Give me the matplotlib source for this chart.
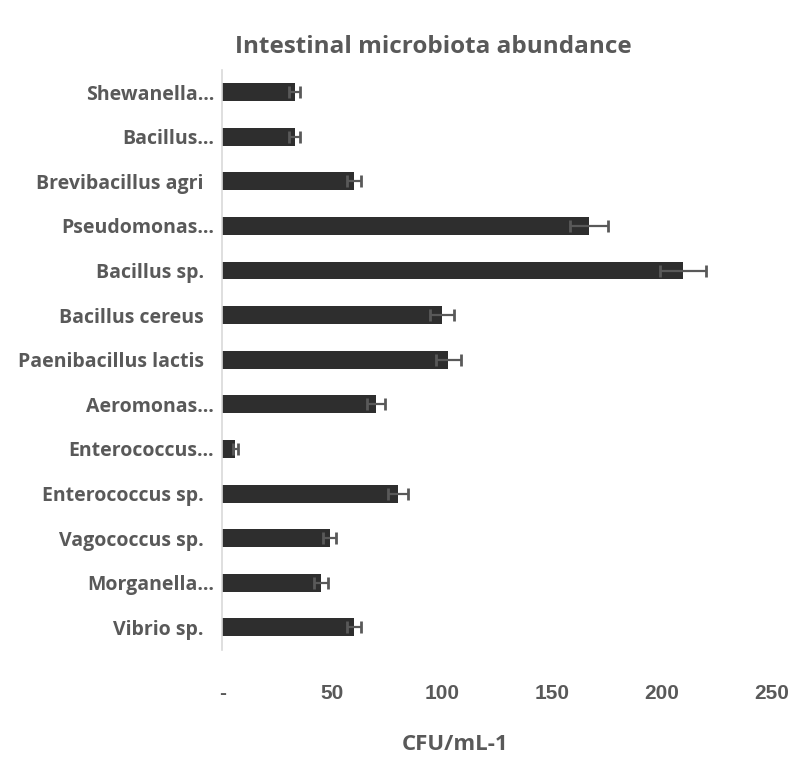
import numpy as np
import matplotlib.pyplot as plt

# categories top-to-bottom as in the chart
labels = ["Shewanella...", "Bacillus...", "Brevibacillus agri  ", "Pseudomonas...",
          "Bacillus sp.  ", "Bacillus cereus  ", "Paenibacillus lactis  ", "Aeromonas...",
          "Enterococcus...", "Enterococcus sp.  ", "Vagococcus sp.  ", "Morganella...",
          "Vibrio sp.  "]
labels = [l.replace("...", "\u2026") for l in labels]
values = [33, 33, 60, 167, 210, 100, 103, 70, 6, 80, 49, 45, 60]
errors = [2.5, 2.5, 3.4, 8.6, 10.5, 5.4, 5.5, 4, 1, 4.5, 3, 3, 3.4]
xticks = [0, 50, 100, 150, 200, 250]
xticklabels = ["-", "50", "100", "150", "200", "250"]

gray = "#595959"
label_font = ["Open Sans", "DejaVu Sans"]
num_font = ["Liberation Sans", "DejaVu Sans"]

fig = plt.figure(figsize=(7.91, 7.59), dpi=100)
ax = fig.add_axes([0.281, 0.144, 0.694, 0.764])

y = np.arange(len(labels))
ax.barh(y, values, height=0.4, color="#2e2e2e", xerr=errors,
        error_kw=dict(ecolor=gray, elinewidth=1.6, capsize=4.3, capthick=2))
ax.set_ylim(len(labels) - 0.5, -0.5)
ax.set_xlim(0, 250)

ax.set_yticks(y)
ax.set_yticklabels(labels, fontfamily=label_font, fontweight="bold",
                   fontsize=14, color=gray)
ax.set_xticks(xticks)
ax.set_xticklabels(xticklabels, fontfamily=num_font, fontweight="bold",
                   fontsize=15, color=gray)
ax.tick_params(axis="y", length=0, pad=6)
ax.tick_params(axis="x", length=0, pad=25)

for s in ["top", "right", "bottom"]:
    ax.spines[s].set_visible(False)
ax.spines["left"].set_color("#d9d9d9")
ax.spines["left"].set_linewidth(1.2)

fig.text(433 / 791, 1 - 47 / 759, "Intestinal microbiota abundance", ha="center",
         va="center", fontfamily=label_font, fontweight="bold", fontsize=17.5, color=gray)
fig.text(455 / 791, 1 - 745 / 759, "CFU/mL-1", ha="center", va="center",
         fontfamily=label_font, fontweight="bold", fontsize=16, color=gray)

fig.savefig("out.png", dpi=100)
